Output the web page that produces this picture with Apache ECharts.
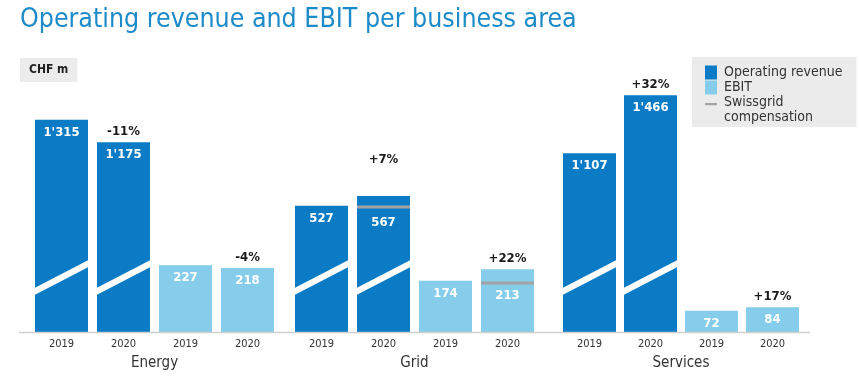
<!DOCTYPE html>
<html><head><meta charset="utf-8">
<script src="https://cdn.jsdelivr.net/npm/echarts@6/dist/echarts.min.js"></script>
<style>html,body{margin:0;padding:0;background:#fff}#c{width:860px;height:380px}</style>
</head><body><div id="c"></div>
<script>
// ---- data ----
const areas = ['Energy', 'Grid', 'Services'];
const years = ['2019', '2020', '2019', '2020'];
const revenue2019 = [1315, 527, 1107];
const revenue2020 = [1175, 567, 1466];
const ebit2019 = [227, 174, 72];
const ebit2020 = [218, 213, 84];
const revenueChange = ['-11%', '+7%', '+32%'];
const ebitChange = ['-4%', '+22%', '+17%'];
const swissgridRevenue = [null, 522, null];
const swissgridEbit = [null, 167, null];
// value ranges of the (hidden) axes per business area; the reference does not use one common scale for revenue
const revenueAxisMax = [1685, 1135, 1685];
const ebitAxisMax = 925;

// ---- style ----
const FONT = "'DejaVu Sans Condensed','DejaVu Sans','Noto Sans',sans-serif";
const DARK = '#0a7bc4';
const LIGHT = '#85cdea';
const GREY = '#a3a3a3';
const BAR_W = 53;
const gridBoxes = [{ left: 30.5, width: 248 }, { left: 290.5, width: 248 }, { left: 559, width: 244 }];

function fmt(v) {
  return String(v).replace(/\B(?=(\d{3})+(?!\d))/g, "'");
}

const chart = echarts.init(document.getElementById('c'), null, { renderer: 'canvas' });

const grid = [], xAxis = [], yAxis = [], series = [];
areas.forEach((area, g) => {
  grid.push({ left: gridBoxes[g].left, width: gridBoxes[g].width, top: 60, bottom: 48 });
  xAxis.push({
    type: 'category', gridIndex: g, data: years,
    axisLine: { show: false }, axisTick: { show: false },
    axisLabel: { color: '#333', fontSize: 11, margin: 7, fontFamily: FONT },
    name: area, nameLocation: 'middle', nameGap: 24,
    nameTextStyle: { color: '#333', fontSize: 15, fontFamily: FONT }
  });
  yAxis.push({ type: 'value', gridIndex: g, min: 0, max: revenueAxisMax[g], show: false });
  yAxis.push({ type: 'value', gridIndex: g, min: 0, max: ebitAxisMax, show: false });

  const valueLabel = {
    show: true, position: 'insideTop', distance: 6, color: '#fff',
    fontWeight: 'bold', fontSize: 13, fontFamily: FONT,
    formatter: p => fmt(p.value)
  };
  // bars carrying a Swissgrid marker get their value label below the marker
  const item = (v, marker) => marker == null ? v : { value: v, label: { distance: 20 } };
  series.push({
    name: 'Operating revenue', type: 'bar', xAxisIndex: g, yAxisIndex: 2 * g,
    data: [revenue2019[g], item(revenue2020[g], swissgridRevenue[g]), '-', '-'],
    barWidth: BAR_W, barGap: '-100%', itemStyle: { color: DARK }, label: valueLabel
  });
  series.push({
    name: 'EBIT', type: 'bar', xAxisIndex: g, yAxisIndex: 2 * g + 1,
    data: ['-', '-', ebit2019[g], item(ebit2020[g], swissgridEbit[g])],
    barWidth: BAR_W, barGap: '-100%', itemStyle: { color: LIGHT }, label: valueLabel
  });
  // axis-break stripe on the revenue bars
  series.push({
    name: 'break', type: 'custom', xAxisIndex: g, yAxisIndex: 2 * g, z: 5, silent: true,
    data: [[0, revenue2019[g]], [1, revenue2020[g]]],
    renderItem: (params, api) => {
      const b = api.coord([api.value(0), 0]);
      const l = b[0] - BAR_W / 2 - 0.5, r = b[0] + BAR_W / 2 + 0.5, y = b[1];
      return { type: 'polygon', shape: { points: [[l, y - 44], [r, y - 72], [r, y - 65], [l, y - 37]] }, style: { fill: '#fff' } };
    }
  });
  // Swissgrid compensation markers
  const sg = (val, idx, yi) => {
    if (val == null) return;
    series.push({
      name: 'Swissgrid compensation', type: 'custom', xAxisIndex: g, yAxisIndex: yi, z: 5,
      itemStyle: { color: GREY }, data: [[idx, val]],
      renderItem: (params, api) => {
        const p = api.coord([api.value(0), api.value(1)]);
        return { type: 'rect', shape: { x: p[0] - BAR_W / 2, y: p[1] - 1.5, width: BAR_W, height: 3 }, style: { fill: GREY } };
      }
    });
  };
  sg(swissgridRevenue[g], 1, 2 * g);
  sg(swissgridEbit[g], 3, 2 * g + 1);
  // change labels
  const chg = (val, txt, idx, yi, lift) => {
    series.push({
      name: 'change', type: 'custom', xAxisIndex: g, yAxisIndex: yi, z: 6, silent: true,
      data: [[idx, val]],
      renderItem: (params, api) => {
        const p = api.coord([api.value(0), api.value(1)]);
        return { type: 'text', x: p[0], y: p[1] - lift, style: { text: txt, align: 'center', verticalAlign: 'bottom', fill: '#1a1a1a', fontSize: 13, fontWeight: 'bold', fontFamily: FONT } };
      }
    });
  };
  chg(revenue2020[g], revenueChange[g], 1, 2 * g, g === 1 ? 30 : 4);
  chg(ebit2020[g], ebitChange[g], 3, 2 * g + 1, 4);
});

chart.setOption({
  animation: false,
  title: [
    { text: 'Operating revenue and EBIT per business area', left: 15, top: 2,
      textStyle: { color: '#1d8bc8', fontSize: 26.5, fontWeight: 'normal', fontFamily: FONT } },
    { text: 'CHF m', left: 20, top: 58, backgroundColor: '#ececec', padding: [6, 9, 6, 9],
      textStyle: { color: '#222', fontSize: 12, fontWeight: 'bold', fontFamily: FONT } }
  ],
  legend: {
    left: 692, top: 57, orient: 'vertical', padding: [8, 14, 2, 13], itemGap: 0,
    itemWidth: 12, itemHeight: 14, symbolKeepAspect: false, selectedMode: false,
    backgroundColor: '#ebebeb',
    textStyle: { color: '#333', fontSize: 14, lineHeight: 15, fontFamily: FONT, padding: [0, 0, 0, 2] },
    formatter: n => n === 'Swissgrid compensation' ? 'Swissgrid\ncompensation' : n,
    data: [
      { name: 'Operating revenue', icon: 'rect', itemStyle: { color: DARK } },
      { name: 'EBIT', icon: 'rect', itemStyle: { color: LIGHT } },
      { name: 'Swissgrid compensation', icon: 'path://M0,0L12,0L12,4L0,4Z M0,24L12,24', itemStyle: { color: GREY, borderWidth: 0 } }
    ]
  },
  graphic: [{ type: 'line', shape: { x1: 19, y1: 332.5, x2: 810, y2: 332.5 }, style: { stroke: '#cfcfcf', lineWidth: 1.5 }, z: 10 }],
  grid, xAxis, yAxis, series
});
</script></body></html>
